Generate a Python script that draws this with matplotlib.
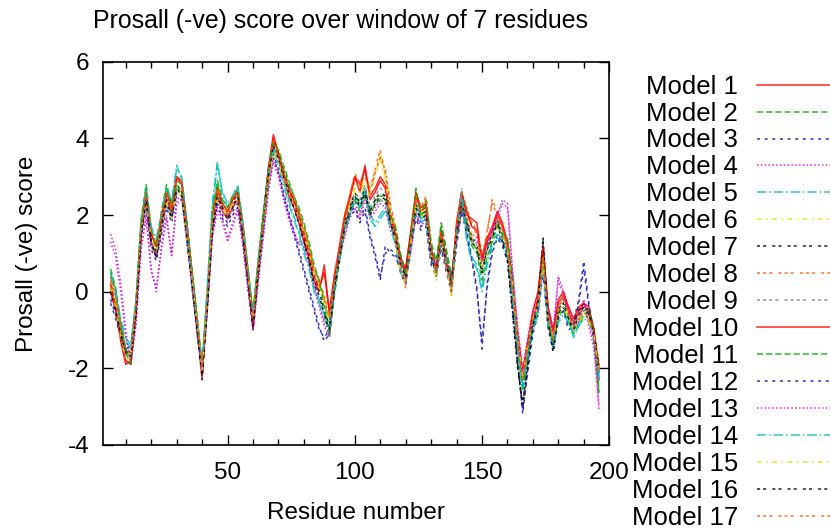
import numpy as np
import matplotlib
matplotlib.use('Agg')
import matplotlib.pyplot as plt
from matplotlib import rcParams

rcParams['font.family'] = ['Liberation Sans', 'DejaVu Sans']
rcParams['axes.unicode_minus'] = False

# residue positions (centre of the 7-residue window)
residues = list(range(4, 197, 2))

model_1 = [0.0, -0.5, -1.2, -1.8, -1.9, -0.6, 1.5, 2.4, 1.3, 0.9,
           1.7, 2.4, 2.1, 3.0, 2.9, 1.8, 0.5, -0.9, -2.2, -0.3,
           1.7, 2.5, 2.1, 1.9, 2.2, 2.4, 1.5, 0.3, -0.9, 0.5,
           1.9, 3.2, 4.1, 3.6, 3.0, 2.5, 2.2, 1.8, 1.3, 0.9,
           0.3, 0.0, 0.7, -0.6, 0.4, 1.1, 1.9, 2.4, 3.0, 2.6,
           3.3, 2.4, 2.6, 2.9, 2.7, 1.8, 1.3, 0.7, 0.6, 1.5,
           2.5, 2.1, 2.2, 0.9, 0.5, 1.4, 0.7, 0.2, 1.7, 2.6,
           2.0, 1.9, 1.8, 0.8, 1.3, 1.6, 2.0, 1.7, 1.1, 0.1,
           -1.3, -2.3, -1.5, -0.8, -0.2, 1.1, -0.5, -1.1, -0.3, -0.1,
           -0.5, -0.8, -0.5, -0.3, -0.6, -1.1, -2.3]
model_2 = [0.6, 0.1, -0.8, -1.5, -1.8, -0.2, 1.8, 2.7, 1.5, 1.1,
           2.0, 2.7, 2.2, 2.9, 2.8, 1.7, 0.5, -0.7, -2.0, -0.1,
           2.0, 2.8, 2.3, 2.1, 2.5, 2.6, 1.8, 0.6, -0.6, 0.8,
           2.0, 3.1, 3.8, 3.6, 3.2, 2.8, 2.5, 2.1, 1.7, 1.2,
           0.6, 0.3, -0.2, -1.0, 0.1, 0.9, 1.7, 2.0, 2.4, 2.2,
           2.6, 2.1, 2.4, 2.5, 2.5, 2.0, 1.6, 0.9, 0.4, 1.3,
           2.2, 1.9, 2.3, 1.2, 0.7, 1.7, 1.0, 0.4, 1.5, 2.2,
           1.8, 1.3, 1.1, 0.5, 1.1, 1.4, 1.8, 1.5, 1.3, 0.3,
           -1.4, -2.5, -1.6, -0.6, -0.4, 0.9, -0.7, -1.3, -0.5, -0.4,
           -0.7, -1.0, -0.8, -0.5, -0.4, -1.0, -2.6]
model_3 = [-0.2, -0.6, -1.1, -1.5, -1.4, -0.3, 1.5, 2.3, 1.2, 0.9,
           1.6, 2.3, 1.9, 2.6, 2.5, 1.4, 0.2, -1.0, -2.0, -0.4,
           1.6, 2.4, 2.0, 1.8, 2.1, 2.3, 1.4, 0.2, -0.9, 0.4,
           1.6, 2.8, 3.6, 3.2, 2.6, 2.1, 1.6, 1.1, 0.6, 0.1,
           -0.4, -0.9, -1.3, -1.1, 0.0, 0.8, 1.6, 2.0, 2.1, 1.8,
           2.1, 1.4, 0.9, 0.3, 1.2, 1.0, 0.9, 0.6, 0.3, 1.2,
           2.0, 1.7, 1.8, 0.8, 0.5, 1.2, 0.6, 0.1, 1.3, 2.2,
           1.6, 0.9, 0.1, -1.5, 0.2, 1.1, 1.5, 1.3, 0.9, -0.2,
           -1.8, -3.2, -2.0, -1.0, -0.5, 0.6, -0.9, -1.4, -0.6, -0.4,
           -0.9, -0.8, -0.2, 0.8, -0.3, -1.2, -2.1]
model_4 = [1.5, 1.1, 0.2, -1.0, -1.9, -0.8, 1.2, 2.0, 0.6, 0.0,
           1.2, 2.0, 1.0, 2.4, 2.5, 1.5, 0.3, -0.9, -2.0, -0.3,
           1.5, 2.2, 1.9, 1.4, 1.8, 2.2, 1.3, 0.2, -0.9, 0.3,
           1.5, 2.7, 3.5, 3.1, 2.5, 2.0, 1.6, 1.2, 1.4, 0.8,
           0.2, -0.3, -0.8, -1.1, 0.2, 1.0, 1.5, 2.0, 2.3, 2.0,
           2.5, 2.0, 2.2, 2.4, 2.3, 1.7, 1.4, 0.9, 0.4, 1.1,
           2.1, 1.8, 2.0, 1.1, 0.7, 1.4, 0.9, 0.4, 1.5, 2.2,
           1.8, 1.5, 1.4, 0.9, 1.3, 1.6, 2.0, 2.4, 2.3, 0.6,
           -0.9, -2.0, -1.2, -0.5, -0.1, 0.7, -0.4, -1.0, 0.4, 0.0,
           -0.4, -0.9, -0.7, -0.2, -0.8, -1.3, -3.0]
model_5 = [0.4, -0.1, -0.8, -1.3, -1.5, -0.3, 1.7, 2.6, 1.6, 1.3,
           1.9, 2.6, 2.3, 3.3, 2.9, 1.7, 0.3, -0.9, -2.0, 0.0,
           2.2, 3.4, 2.5, 2.2, 2.4, 2.7, 1.7, 0.5, -0.7, 0.7,
           1.8, 3.0, 3.8, 3.4, 2.9, 2.4, 2.0, 1.6, 1.1, 0.7,
           0.1, -0.2, -0.6, -0.9, 0.2, 1.0, 1.7, 2.1, 2.5, 2.3,
           2.7, 2.0, 1.8, 2.0, 2.2, 1.8, 1.3, 0.6, 0.3, 1.3,
           2.2, 1.9, 2.0, 1.1, 0.5, 1.4, 0.9, 0.2, 1.6, 2.7,
           1.4, 0.9, 0.7, 0.1, 0.8, 1.3, 1.5, 1.4, 1.0, 0.0,
           -1.4, -2.4, -1.6, -0.9, -0.5, 0.8, -0.8, -1.4, -0.7, -0.5,
           -0.7, -1.1, -0.8, -0.6, -0.7, -1.0, -2.2]
model_6 = [0.2, -0.3, -1.1, -1.7, -1.6, -0.3, 1.7, 2.4, 1.5, 1.1,
           1.8, 2.4, 2.0, 2.7, 2.6, 1.5, 0.4, -0.7, -2.0, -0.2,
           1.9, 2.5, 2.3, 2.1, 2.4, 2.5, 1.7, 0.5, -0.7, 0.6,
           1.8, 2.9, 3.7, 3.4, 3.0, 2.7, 2.4, 2.0, 1.6, 1.1,
           0.5, 0.2, -0.2, -0.7, 0.3, 1.0, 1.8, 2.3, 2.7, 2.6,
           2.9, 2.6, 3.1, 3.6, 3.0, 2.1, 1.4, 0.6, 0.3, 1.4,
           2.3, 2.1, 2.1, 1.0, 0.4, 1.5, 0.7, 0.0, 1.6, 2.3,
           2.0, 1.5, 1.3, 0.7, 1.2, 1.5, 1.8, 1.6, 1.2, 0.3,
           -1.1, -2.1, -1.3, -0.6, -0.3, 0.8, -0.6, -1.1, -0.5, -0.3,
           -0.6, -0.9, -0.7, -0.5, -0.7, -1.0, -2.0]
model_7 = [0.1, -0.4, -1.0, -1.5, -1.6, -0.5, 1.6, 2.5, 1.4, 1.0,
           1.8, 2.5, 2.0, 2.8, 2.6, 1.5, 0.3, -0.9, -2.2, -0.4,
           1.7, 2.6, 2.3, 2.0, 2.3, 2.6, 1.6, 0.4, -0.8, 0.6,
           1.9, 3.1, 3.9, 3.6, 3.1, 2.7, 2.3, 1.9, 1.4, 0.9,
           0.3, 0.0, -0.5, -0.9, 0.2, 1.0, 1.8, 2.2, 2.6, 2.3,
           2.7, 2.1, 2.4, 2.6, 2.5, 1.9, 1.5, 0.8, 0.5, 1.4,
           2.3, 2.0, 2.1, 1.0, 0.6, 1.5, 0.8, 0.3, 1.6, 2.4,
           1.9, 1.4, 1.2, 0.6, 1.2, 1.5, 1.9, 1.4, 0.9, -0.5,
           -1.9, -3.0, -1.8, -0.8, -0.2, 1.4, -0.7, -1.5, -0.5, -0.2,
           -0.6, -0.9, -0.5, -0.3, -0.5, -1.0, -1.9]
model_8 = [0.3, -0.2, -0.9, -1.6, -1.7, -0.4, 1.6, 2.5, 1.5, 1.1,
           1.9, 2.5, 2.1, 2.9, 2.8, 1.6, 0.4, -0.8, -2.1, -0.2,
           1.8, 2.6, 2.2, 2.0, 2.4, 2.5, 1.6, 0.4, -0.7, 0.6,
           1.8, 3.0, 3.9, 3.5, 3.0, 2.6, 2.4, 2.0, 1.6, 1.1,
           0.5, 0.2, -0.2, -0.7, 0.4, 1.1, 1.9, 2.4, 2.9, 2.7,
           3.1, 2.7, 3.2, 3.7, 3.1, 2.2, 1.6, 0.6, 0.1, 1.3,
           2.4, 2.1, 2.4, 1.1, 0.4, 1.4, 0.7, -0.1, 1.7, 2.5,
           2.1, 1.7, 1.5, 0.8, 1.5, 2.4, 2.1, 1.7, 1.2, 0.1,
           -1.2, -2.2, -1.3, -0.6, -0.2, 1.0, -0.5, -1.2, -0.3, -0.1,
           -0.5, -0.8, -0.6, -0.4, -0.6, -1.0, -2.0]
model_9 = [0.0, -0.3, -1.0, -1.6, -1.6, -0.4, 1.5, 2.4, 1.4, 1.0,
           1.7, 2.4, 2.0, 2.7, 2.6, 1.6, 0.4, -0.8, -2.1, -0.2,
           1.8, 2.5, 2.2, 2.0, 2.3, 2.4, 1.6, 0.4, -0.8, 0.6,
           1.8, 3.0, 3.8, 3.4, 3.0, 2.6, 2.3, 1.9, 1.5, 1.0,
           0.4, 0.1, -0.3, -0.8, 0.3, 1.0, 1.8, 2.2, 2.6, 2.4,
           2.8, 2.2, 2.5, 2.7, 2.6, 1.9, 1.5, 0.8, 0.5, 1.4,
           2.3, 2.0, 2.1, 1.0, 0.6, 1.5, 0.8, 0.3, 1.6, 2.4,
           1.9, 1.4, 1.2, 0.6, 1.2, 1.5, 1.9, 1.6, 1.2, 0.2,
           -1.2, -2.2, -1.4, -0.7, -0.3, 1.0, -0.6, -1.2, -0.4, -0.2,
           -0.6, -0.9, -0.6, -0.4, -0.5, -1.2, -2.3]
model_10 = [0.2, -0.4, -1.3, -1.9, -1.8, -0.5, 1.7, 2.6, 1.5, 1.2,
            1.9, 2.6, 2.2, 3.0, 2.8, 1.7, 0.5, -0.8, -2.2, -0.3,
            1.9, 2.7, 2.3, 2.1, 2.4, 2.6, 1.7, 0.5, -1.0, 0.5,
            1.9, 3.2, 4.0, 3.6, 3.1, 2.7, 2.4, 2.0, 1.5, 1.0,
            0.4, 0.1, 0.5, -0.5, 0.4, 1.2, 2.0, 2.5, 3.0, 2.8,
            3.2, 2.5, 2.7, 3.0, 2.8, 2.0, 1.5, 0.9, 0.6, 1.6,
            2.6, 2.2, 2.3, 1.1, 0.6, 1.6, 0.8, 0.2, 1.8, 2.6,
            2.1, 1.7, 1.6, 0.9, 1.4, 1.7, 2.1, 1.8, 1.3, 0.3,
            -1.1, -2.1, -1.3, -0.5, 0.0, 1.2, -0.4, -1.0, -0.2, 0.0,
            -0.4, -0.7, -0.4, -0.3, -0.4, -1.0, -2.0]
model_11 = [0.5, 0.0, -0.9, -1.6, -1.9, -0.3, 1.9, 2.8, 1.6, 1.2,
            2.1, 2.8, 2.3, 2.8, 2.6, 1.8, 0.6, -0.6, -1.9, 0.0,
            2.1, 2.9, 2.4, 2.2, 2.5, 2.7, 1.8, 0.6, -0.5, 0.8,
            2.1, 3.2, 3.9, 3.7, 3.3, 2.9, 2.5, 2.2, 1.8, 1.3,
            0.7, 0.3, -0.4, -1.2, -0.1, 0.8, 1.6, 2.0, 2.4, 2.1,
            2.5, 2.0, 2.3, 2.4, 2.4, 2.0, 1.7, 1.0, 0.4, 1.5,
            2.7, 2.0, 2.4, 1.3, 0.8, 1.8, 1.1, 0.4, 1.4, 2.1,
            1.7, 1.2, 1.0, 0.3, 0.9, 1.3, 1.7, 1.5, 1.4, 0.4,
            -1.5, -2.6, -1.7, -0.8, -0.5, 0.8, -0.8, -1.3, -0.6, -0.5,
            -0.8, -1.1, -0.9, -0.6, -0.5, -1.1, -2.7]
model_12 = [-0.3, -0.7, -1.2, -1.6, -1.5, -0.4, 1.4, 2.2, 1.1, 0.8,
            1.5, 2.2, 1.8, 2.5, 2.4, 1.3, 0.1, -1.1, -2.1, -0.5,
            1.5, 2.3, 1.9, 1.7, 2.0, 2.2, 1.3, 0.1, -1.0, 0.3,
            1.5, 2.7, 3.5, 3.1, 2.5, 2.0, 1.5, 1.0, 0.5, 0.0,
            -0.5, -1.0, -1.2, -1.0, 0.1, 0.9, 1.7, 2.1, 2.2, 1.9,
            2.2, 1.5, 1.0, 0.4, 1.0, 1.1, 1.0, 0.5, 0.2, 1.1,
            1.9, 1.6, 1.7, 0.7, 0.4, 1.1, 0.5, 0.0, 1.2, 2.1,
            1.5, 0.8, 0.0, -1.3, 0.1, 1.0, 1.4, 1.2, 0.8, -0.3,
            -1.9, -3.1, -2.1, -1.1, -0.6, 0.5, -1.0, -1.5, -0.7, -0.5,
            -1.0, -0.9, -0.3, 0.6, -0.4, -1.3, -2.2]
model_13 = [1.3, 0.9, 0.0, -1.2, -1.8, -0.9, 1.1, 1.9, 0.5, 0.1,
            1.1, 1.9, 0.9, 2.3, 2.4, 1.4, 0.2, -1.0, -2.1, -0.4,
            1.4, 2.1, 1.8, 1.3, 1.7, 2.1, 1.2, 0.1, -1.0, 0.2,
            1.4, 2.6, 3.4, 3.0, 2.4, 1.9, 1.5, 1.3, 1.2, 0.7,
            0.1, -0.4, -0.9, -1.2, 0.1, 0.9, 1.4, 1.9, 2.2, 1.9,
            2.4, 1.9, 2.1, 2.3, 2.2, 1.6, 1.3, 0.8, 0.3, 1.0,
            2.0, 1.7, 1.9, 1.0, 0.6, 1.3, 0.8, 0.3, 1.4, 2.1,
            1.7, 1.4, 1.3, 0.8, 1.2, 1.5, 1.9, 2.3, 2.2, 0.5,
            -1.0, -2.1, -1.3, -0.6, -0.2, 0.6, -0.5, -1.1, 0.3, -0.1,
            -0.5, -1.0, -0.8, -0.3, -0.9, -1.5, -3.1]
model_14 = [0.5, 0.0, -0.7, -1.2, -1.4, -0.2, 1.8, 2.7, 1.7, 1.4,
            2.0, 2.7, 2.4, 3.2, 3.0, 1.8, 0.4, -0.8, -1.9, 0.1,
            2.3, 3.3, 2.6, 2.3, 2.5, 2.8, 1.8, 0.6, -0.6, 0.8,
            1.9, 3.1, 3.7, 3.3, 2.8, 2.3, 1.9, 1.5, 1.0, 0.6,
            0.0, -0.3, -0.7, -1.0, 0.1, 0.9, 1.6, 2.0, 2.4, 2.2,
            2.6, 1.9, 1.7, 1.9, 2.1, 1.7, 1.2, 0.5, 0.2, 1.2,
            2.1, 1.8, 1.9, 1.0, 0.4, 1.3, 0.8, 0.1, 1.5, 2.6,
            1.3, 0.8, 0.6, 0.0, 0.7, 1.2, 1.4, 1.3, 0.9, -0.1,
            -1.5, -2.5, -1.7, -1.0, -0.6, 0.7, -0.9, -1.5, -0.8, -0.6,
            -0.8, -1.2, -0.9, -0.7, -0.8, -1.1, -2.3]
model_15 = [0.1, -0.4, -1.2, -1.8, -1.7, -0.4, 1.6, 2.3, 1.4, 1.0,
            1.7, 2.3, 1.9, 2.6, 2.5, 1.4, 0.3, -0.8, -2.1, -0.3,
            1.8, 2.4, 2.2, 2.0, 2.3, 2.4, 1.6, 0.4, -0.8, 0.5,
            1.7, 2.8, 3.6, 3.3, 2.9, 2.6, 2.3, 1.9, 1.5, 1.0,
            0.4, 0.1, -0.3, -0.8, 0.2, 0.9, 1.7, 2.2, 2.6, 2.5,
            2.8, 2.5, 3.0, 3.5, 2.9, 2.0, 1.3, 0.5, 0.2, 1.3,
            2.2, 2.0, 2.0, 0.9, 0.3, 1.4, 0.6, -0.1, 1.5, 2.2,
            1.9, 1.4, 1.2, 0.6, 1.1, 1.4, 1.7, 1.5, 1.1, 0.2,
            -1.2, -2.2, -1.4, -0.7, -0.4, 0.7, -0.7, -1.2, -0.6, -0.4,
            -0.7, -1.0, -0.8, -0.6, -0.8, -1.1, -2.1]
model_16 = [0.0, -0.5, -1.1, -1.6, -1.7, -0.6, 1.5, 2.4, 1.3, 0.9,
            1.7, 2.4, 1.9, 2.7, 2.5, 1.4, 0.2, -1.0, -2.3, -0.5,
            1.6, 2.5, 2.2, 1.9, 2.2, 2.5, 1.5, 0.3, -0.9, 0.5,
            1.8, 3.0, 3.8, 3.5, 3.0, 2.6, 2.2, 1.8, 1.3, 0.8,
            0.2, -0.1, -0.6, -1.0, 0.1, 0.9, 1.7, 2.1, 2.5, 2.2,
            2.6, 2.0, 2.3, 2.5, 2.4, 1.8, 1.4, 0.7, 0.4, 1.3,
            2.2, 1.9, 2.0, 0.9, 0.5, 1.4, 0.7, 0.2, 1.5, 2.3,
            1.8, 1.3, 1.1, 0.5, 1.1, 1.4, 1.8, 1.3, 0.8, -0.6,
            -2.0, -2.9, -1.9, -0.9, -0.3, 1.3, -0.8, -1.6, -0.6, -0.3,
            -0.7, -1.0, -0.6, -0.4, -0.6, -1.1, -2.0]
model_17 = [0.4, -0.1, -0.8, -1.5, -1.6, -0.3, 1.7, 2.6, 1.6, 1.2,
            2.0, 2.6, 2.2, 3.0, 2.9, 1.7, 0.5, -0.7, -2.0, -0.1,
            1.9, 2.7, 2.3, 2.1, 2.5, 2.6, 1.7, 0.5, -0.6, 0.7,
            1.9, 3.1, 4.0, 3.6, 3.1, 2.7, 2.5, 2.1, 1.7, 1.2,
            0.6, 0.3, -0.1, -0.6, 0.5, 1.2, 2.0, 2.5, 3.1, 2.8,
            3.0, 2.6, 3.1, 3.5, 3.2, 2.3, 1.7, 0.7, 0.2, 1.4,
            2.5, 2.2, 2.5, 1.2, 0.5, 1.5, 0.8, 0.0, 1.8, 2.6,
            2.2, 1.8, 1.6, 0.9, 1.6, 2.3, 2.0, 1.6, 1.1, 0.0,
            -1.3, -2.3, -1.4, -0.7, -0.3, 0.9, -0.6, -1.3, -0.4, -0.2,
            -0.6, -0.9, -0.7, -0.5, -0.7, -1.1, -2.1]

models = [model_1, model_2, model_3, model_4, model_5, model_6, model_7, model_8, model_9,
          model_10, model_11, model_12, model_13, model_14, model_15, model_16, model_17]
names = ["Model {}".format(i + 1) for i in range(len(models))]

# gnuplot-like line types, cycling every 9
lt_colors = ['#ff0000', '#00b000', '#1010c0', '#e000e0', '#00c0c0',
             '#e8e000', '#000000', '#ff5a00', '#8a7a9a']
lt_dashes = ['-', (0, (4, 2)), (0, (2, 3)), (0, (1, 1.5)), (0, (6, 2, 1, 2)),
             (0, (3, 3, 1, 3)), (0, (2, 2, 2, 4)), (0, (2, 2, 2, 2, 2, 4)),
             (0, (2, 2, 2, 2, 2, 2, 2, 4))]

fig = plt.figure(figsize=(8.3, 5.29), dpi=100)
ax = fig.add_axes([0.124, 0.159, 0.610, 0.724])

for jj, (name, vals) in enumerate(zip(names, models)):
    ax.plot(residues, vals, color=lt_colors[jj % 9], linestyle=lt_dashes[jj % 9],
            linewidth=1.1, alpha=0.85, label=name)

ax.set_xlim(1, 200)
ax.set_ylim(-4, 6)
ax.set_xticks([50, 100, 150, 200])
ax.set_xticks(np.arange(10, 200, 10), minor=True)
ax.set_yticks([-4, -2, 0, 2, 4, 6])
ax.tick_params(which='both', direction='in', top=True, right=True, labelsize=17.5)
ax.tick_params(which='major', length=7, width=1)
ax.tick_params(which='minor', length=4, width=1)
ax.tick_params(axis='x', pad=12)
ax.tick_params(axis='y', pad=10)
for sp in ax.spines.values():
    sp.set_linewidth(1.2)

ax.set_xlabel("Residue number", fontsize=17.5, labelpad=13)
ax.set_ylabel("Prosall (-ve) score", fontsize=17.5, labelpad=21)
fig.text(93 / 830, 1 - 21 / 529, "Prosall (-ve) score over window of 7 residues",
         fontsize=17.9, ha='left', va='center')

fig.legend(loc='upper right', bbox_to_anchor=(1.036, 0.859), markerfirst=False,
           frameon=False, fontsize=18.5, handlelength=4, handletextpad=0.74,
           labelspacing=0.115, borderpad=0, borderaxespad=0)

plt.savefig("out.png", dpi=100)
plt.close()
